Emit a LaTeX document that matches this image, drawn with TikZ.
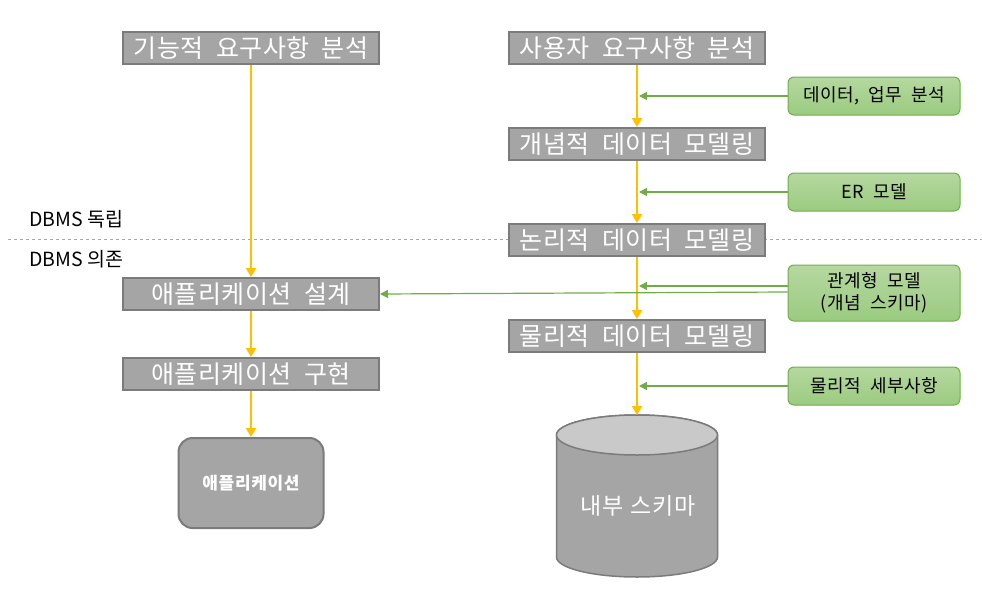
\documentclass[tikz,border=0pt]{standalone}
\usepackage{fontspec}
\setmainfont{Noto Sans CJK KR}
\newfontfamily\boxfont[LetterSpace=2,WordSpace=2]{Noto Sans CJK KR}
\newfontfamily\grnfont[LetterSpace=3,WordSpace=2]{Noto Sans CJK KR}
\newfontfamily\appfont[LetterSpace=4]{Noto Sans CJK KR}
\usetikzlibrary{arrows.meta,calc}
\definecolor{boxfill}{HTML}{A5A5A5}
\definecolor{boxline}{HTML}{7B7B7B}
\definecolor{ylw}{HTML}{FFC000}
\definecolor{grn}{HTML}{70AD47}
\definecolor{gtop}{HTML}{B5D8A0}
\definecolor{gbot}{HTML}{9BCB80}
\definecolor{cyltopc}{HTML}{C9C9C9}
\begin{document}
\begin{tikzpicture}[x=1pt,y=-1pt,
  graybox/.style={draw=boxline, line width=2pt, fill=boxfill, text=white, minimum width=256pt, minimum height=32pt, inner sep=0pt, font=\boxfont\fontsize{25}{25}\selectfont},
  greenbox/.style={draw=grn, line width=1pt, rounded corners=6pt, top color=gtop, bottom color=gbot, minimum width=172pt, minimum height=38pt, inner sep=0pt, align=center, font=\grnfont\fontsize{18}{22}\selectfont},
  yarrow/.style={draw=ylw, line width=2pt, -{Triangle[width=10pt,length=9pt]}},
  yarrowthin/.style={draw=ylw, line width=2pt, -{Triangle[width=10pt,length=9pt]}},
  garrow/.style={draw=grn, line width=1.2pt, -{Triangle[width=8pt,length=8pt]}},
  lbl/.style={font=\fontsize{19.5}{19.5}\selectfont, anchor=west, inner sep=0pt}
]
\useasboundingbox (0,0) rectangle (982,594);
\draw[gray!70, line width=0.9pt, dash pattern=on 3pt off 3pt] (8,239.5) -- (982,239.5);

\node[lbl] (indep) at (29,219) {DBMS 독립};
\node[lbl] (dep) at (29,259) {DBMS 의존};

% left column
\node[graybox] (f1) at (251,48) {기능적 요구사항 분석};
\node[graybox] (a1) at (251,294) {애플리케이션 설계};
\node[graybox] (a2) at (251,374) {애플리케이션 구현};
\node[draw=boxline, line width=2pt, fill=boxfill, rounded corners=14pt, minimum width=145pt, minimum height=90pt, text=white, font=\appfont\bfseries\fontsize{17}{17}\selectfont] (app) at (251,483) {애플리케이션};

% right column
\node[graybox] (u1) at (637,48) {사용자 요구사항 분석};
\node[graybox] (u2) at (637,144) {개념적 데이터 모델링};
\node[graybox] (u3) at (637,240) {논리적 데이터 모델링};
\node[graybox] (u4) at (637,336) {물리적 데이터 모델링};

% cylinder
\coordinate (cyltop) at (637,415);
\filldraw[draw=boxline, line width=1.5pt, fill=boxfill] (556.5,435) -- (556.5,557) arc (180:360:80.5pt and 20pt) -- (717.5,435) arc (0:180:80.5pt and 20pt) -- cycle;
\filldraw[draw=boxline, line width=1.5pt, fill=cyltopc] (637,435) ellipse [x radius=80.5pt, y radius=20pt];
\node[text=white, font=\appfont\fontsize{23}{23}\selectfont] (cyl) at (638,506) {내부 스키마};

% green boxes
\node[greenbox] (g1) at (874,96) {데이터, 업무 분석};
\node[greenbox] (g2) at (874,192) {ER 모델};
\node[greenbox, minimum height=56pt] (g3) at (874,293) {관계형 모델\\(개념 스키마)};
\node[greenbox] (g4) at (874,386) {물리적 세부사항};

% yellow arrows
\draw[yarrowthin] (f1.south) -- (a1.north);
\draw[yarrowthin] (a1.south) -- (a2.north);
\draw[yarrowthin] (a2.south) -- (app.north);
\draw[yarrow] (u1.south) -- (u2.north);
\draw[yarrow] (u2.south) -- (u3.north);
\draw[yarrow] (u3.south) -- (u4.north);
\draw[yarrow] (u4.south) -- (cyltop);

% green arrows
\draw[garrow] (g1.west) -- ([xshift=2pt]g1.west -| u1.south);
\draw[garrow] (g2.west) -- ([xshift=2pt]g2.west -| u1.south);
\draw[garrow] ([yshift=1pt]g3.west) -- (a1.east);
\draw[garrow] ([yshift=7pt]g3.west) -- ([xshift=2pt,yshift=7pt]g3.west -| u1.south);
\draw[garrow] (g4.west) -- ([xshift=2pt]g4.west -| u1.south);
\end{tikzpicture}
\end{document}
